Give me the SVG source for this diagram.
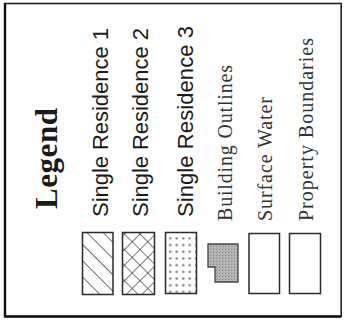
<svg xmlns="http://www.w3.org/2000/svg" width="344" height="324" viewBox="0 0 344 324">
  <style>
    .frame { fill: #fff; stroke: #222; stroke-width: 1.6; }
    .sw { stroke: #2a2a2a; stroke-width: 1.5; }
    .sans { font-family: "Liberation Sans", Arial, sans-serif; font-size: 22px; fill: #1a1a1a; }
    .serif { font-family: "Liberation Serif", "Times New Roman", serif; font-size: 20px; fill: #333; }
    .title { font-family: "Liberation Serif", "Times New Roman", serif; font-size: 31px; font-weight: bold; fill: #1a1a1a; }
  </style>
  <defs>
    <pattern id="hatch" patternUnits="userSpaceOnUse" width="11.5" height="11.5" patternTransform="rotate(-45)">
      <line x1="0" y1="0" x2="0" y2="11.5" stroke="#222" stroke-width="1.3"/>
    </pattern>
    <pattern id="cross" patternUnits="userSpaceOnUse" width="11" height="11" patternTransform="rotate(45)">
      <line x1="0" y1="0" x2="0" y2="11" stroke="#222" stroke-width="1.2"/>
      <line x1="0" y1="0" x2="11" y2="0" stroke="#222" stroke-width="1.2"/>
    </pattern>
    <pattern id="dots" patternUnits="userSpaceOnUse" x="167" y="235" width="6.5" height="6.7">
      <circle cx="3.2" cy="3.3" r="1.2" fill="#777"/>
    </pattern>
    <pattern id="stipple" patternUnits="userSpaceOnUse" width="3" height="3">
      <rect width="3" height="3" fill="#b0b0b0"/>
      <rect x="0" y="0" width="1" height="1" fill="#8a8a8a"/>
      <rect x="2" y="1" width="1" height="1" fill="#c8c8c8"/>
    </pattern>
  </defs>

  <!-- legend frame -->
  <rect class="frame" x="4.8" y="3.5" width="336.4" height="313"/>
  <line x1="5" y1="3" x2="5" y2="317" stroke="#111" stroke-width="2.4"/>
  <line x1="4" y1="316.5" x2="341" y2="316.5" stroke="#111" stroke-width="2.4"/>

  <g id="title">
    <text class="title" transform="translate(57,209) rotate(-90)" textLength="101" lengthAdjust="spacing">Legend</text>
  </g>

  <g id="single-residence-1">
    <rect class="sw" x="82.5" y="232.5" width="30.5" height="62" fill="url(#hatch)"/>
    <text class="sans" transform="translate(108,217) rotate(-90)" textLength="189" lengthAdjust="spacing">Single Residence 1</text>
  </g>

  <g id="single-residence-2">
    <rect class="sw" x="122.5" y="232.5" width="32" height="62" fill="url(#cross)"/>
    <text class="sans" transform="translate(148,217) rotate(-90)" textLength="189" lengthAdjust="spacing">Single Residence 2</text>
  </g>

  <g id="single-residence-3">
    <rect class="sw" x="165.5" y="232.5" width="31" height="61" fill="url(#dots)" stroke="#555"/>
    <text class="sans" transform="translate(193,217) rotate(-90)" textLength="191" lengthAdjust="spacing">Single Residence 3</text>
  </g>

  <g id="building-outlines">
    <path d="M208 244 H238 V282 H215 V267 H208 Z" fill="url(#stipple)" stroke="#444" stroke-width="1.3"/>
    <text class="serif" transform="translate(232,221) rotate(-90)" textLength="156" lengthAdjust="spacing">Building Outlines</text>
  </g>

  <g id="surface-water">
    <rect class="sw" x="249" y="233.5" width="30.5" height="60" fill="#fff" stroke="#333"/>
    <text class="serif" transform="translate(272,221) rotate(-90)" textLength="124" lengthAdjust="spacing">Surface Water</text>
  </g>

  <g id="property-boundaries">
    <rect class="sw" x="289.5" y="233.5" width="31" height="60" fill="#fff" stroke="#333"/>
    <text class="serif" transform="translate(313,221) rotate(-90)" textLength="183" lengthAdjust="spacing">Property Boundaries</text>
  </g>
</svg>
